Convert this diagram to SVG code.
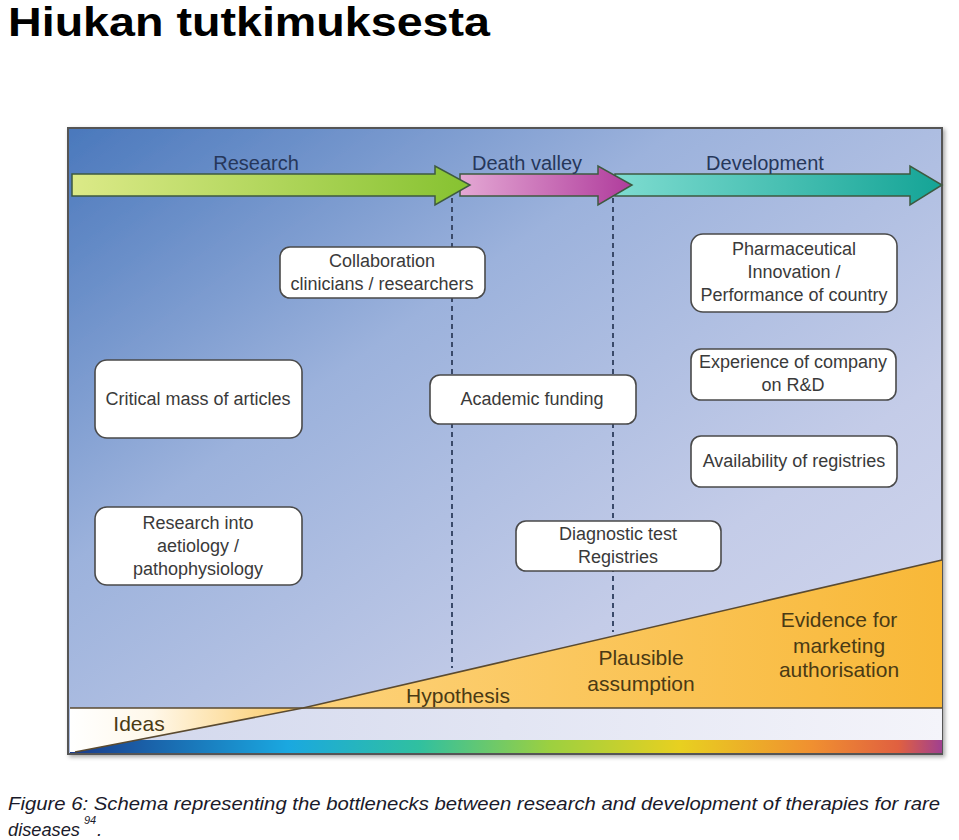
<svg xmlns="http://www.w3.org/2000/svg" width="959" height="840" viewBox="0 0 959 840">
<defs>
<linearGradient id="bg" x1="0" y1="0" x2="1" y2="1">
<stop offset="0" stop-color="#4a78bc"/>
<stop offset="0.35" stop-color="#9cb2dc"/>
<stop offset="0.7" stop-color="#c4cce8"/>
<stop offset="1" stop-color="#d4d8ee"/>
</linearGradient>
<linearGradient id="band" x1="0" y1="0" x2="1" y2="0">
<stop offset="0" stop-color="#d0d6ec"/>
<stop offset="1" stop-color="#f4f4fa"/>
</linearGradient>
<linearGradient id="rainbow" x1="0" y1="0" x2="1" y2="0">
<stop offset="0" stop-color="#1a3a8a"/>
<stop offset="0.25" stop-color="#1aa8e0"/>
<stop offset="0.4" stop-color="#30c0a0"/>
<stop offset="0.55" stop-color="#9cd040"/>
<stop offset="0.7" stop-color="#e8d020"/>
<stop offset="0.85" stop-color="#f09030"/>
<stop offset="0.95" stop-color="#e06040"/>
<stop offset="1" stop-color="#a04090"/>
</linearGradient>
<linearGradient id="yellow" x1="0" y1="0" x2="1" y2="0">
<stop offset="0" stop-color="#fdd27a"/>
<stop offset="1" stop-color="#f8b838"/>
</linearGradient>
<linearGradient id="ideas" x1="70" y1="0" x2="303" y2="0" gradientUnits="userSpaceOnUse">
<stop offset="0" stop-color="#ffffff"/>
<stop offset="0.35" stop-color="#fff8ea"/>
<stop offset="1" stop-color="#fbc860"/>
</linearGradient>
<linearGradient id="green" x1="0" y1="0" x2="1" y2="0">
<stop offset="0" stop-color="#dcea88"/>
<stop offset="1" stop-color="#86c230"/>
</linearGradient>
<linearGradient id="pink" x1="0" y1="0" x2="1" y2="0">
<stop offset="0" stop-color="#e4a8d4"/>
<stop offset="1" stop-color="#b03c9c"/>
</linearGradient>
<linearGradient id="teal" x1="0" y1="0" x2="1" y2="0">
<stop offset="0" stop-color="#7edcd0"/>
<stop offset="1" stop-color="#14a496"/>
</linearGradient>
<filter id="sh" x="-5%" y="-5%" width="110%" height="110%">
<feDropShadow dx="2" dy="2" stdDeviation="2" flood-color="#000" flood-opacity="0.35"/>
</filter>
</defs>
<style>
.box{fill:#ffffff;stroke:#4a4a4a;stroke-width:1.6}
.bt{font-family:"Liberation Sans",Arial,sans-serif;font-size:18px;fill:#3a3a3a;text-anchor:middle}
.hd{font-family:"Liberation Sans",Arial,sans-serif;font-size:20px;fill:#26375a;text-anchor:middle}
.tt{font-family:"Liberation Sans",Arial,sans-serif;font-size:21px;fill:#4a3a14;text-anchor:middle}
.arr{stroke:#3e5a40;stroke-width:1.5}
.dash{stroke:#3a4a6a;stroke-width:2;stroke-dasharray:5,4;fill:none}
</style>
<rect width="959" height="840" fill="#ffffff"/>
<text x="8" y="36" font-family="Liberation Sans,Arial,sans-serif" font-weight="bold" font-size="40" textLength="482" lengthAdjust="spacingAndGlyphs" fill="#000">Hiukan tutkimuksesta</text>

<g id="frame">
<rect x="68" y="128" width="874" height="626" fill="url(#bg)" stroke="#555" stroke-width="2" filter="url(#sh)"/>
<rect x="70" y="708" width="872" height="32" fill="url(#band)"/>
<rect x="70" y="740" width="872" height="13" fill="url(#rainbow)"/>
<polygon points="303,708 942,560 942,708" fill="url(#yellow)"/>
<polygon points="70,708 303,708 75,752 70,752" fill="url(#ideas)"/>
<polyline points="75,752 303,708 942,560" fill="none" stroke="#5a4a30" stroke-width="1.6"/>
<line x1="70" y1="708" x2="942" y2="708" stroke="#5a4a30" stroke-width="1.6"/>
</g>

<g id="connectors">
<line class="dash" x1="452" y1="198" x2="452" y2="668"/>
<line class="dash" x1="613" y1="198" x2="613" y2="632"/>
</g>

<g id="arrow-development">
<polygon class="arr" points="615,174 910,174 910,166 942,185 910,205 910,196 615,196" fill="url(#teal)"/>
<text class="hd" x="765" y="170">Development</text>
</g>
<g id="arrow-deathvalley">
<polygon class="arr" points="460,174 598,174 598,166 632,185 598,205 598,196 460,196" fill="url(#pink)"/>
<text class="hd" x="527" y="170">Death valley</text>
</g>
<g id="arrow-research">
<polygon class="arr" points="72,174 435,174 435,166 470,185 435,205 435,196 72,196" fill="url(#green)"/>
<text class="hd" x="256" y="170">Research</text>
</g>

<g id="collaboration">
<rect class="box" x="280" y="247" width="205" height="51" rx="10"/>
<text class="bt" x="382" y="267">Collaboration</text>
<text class="bt" x="382" y="290">clinicians / researchers</text>
</g>
<g id="pharmaceutical">
<rect class="box" x="691" y="234" width="206" height="78" rx="12"/>
<text class="bt" x="794" y="255">Pharmaceutical</text>
<text class="bt" x="794" y="278">Innovation /</text>
<text class="bt" x="794" y="301">Performance of country</text>
</g>
<g id="critical-mass">
<rect class="box" x="95" y="360" width="207" height="78" rx="12"/>
<text class="bt" x="198" y="405">Critical mass of articles</text>
</g>
<g id="academic-funding">
<rect class="box" x="430" y="375" width="206" height="49" rx="10"/>
<text class="bt" x="532" y="405">Academic funding</text>
</g>
<g id="experience">
<rect class="box" x="691" y="349" width="205" height="51" rx="10"/>
<text class="bt" x="793" y="368">Experience of company</text>
<text class="bt" x="793" y="391">on R&amp;D</text>
</g>
<g id="availability">
<rect class="box" x="691" y="436" width="206" height="51" rx="10"/>
<text class="bt" x="794" y="467">Availability of registries</text>
</g>
<g id="research-into">
<rect class="box" x="95" y="507" width="207" height="78" rx="12"/>
<text class="bt" x="198" y="529">Research into</text>
<text class="bt" x="198" y="552">aetiology /</text>
<text class="bt" x="198" y="575">pathophysiology</text>
</g>
<g id="diagnostic">
<rect class="box" x="516" y="521" width="205" height="50" rx="10"/>
<text class="bt" x="618" y="540">Diagnostic test</text>
<text class="bt" x="618" y="563">Registries</text>
</g>

<g id="stages">
<text class="tt" x="139" y="731">Ideas</text>
<text class="tt" x="458" y="703">Hypothesis</text>
<text class="tt" x="641" y="665">Plausible</text>
<text class="tt" x="641" y="691">assumption</text>
<text class="tt" x="839" y="627">Evidence for</text>
<text class="tt" x="839" y="653">marketing</text>
<text class="tt" x="839" y="677">authorisation</text>
</g>

<g id="caption" font-family="Liberation Sans,Arial,sans-serif" font-style="italic" fill="#1a1a2a">
<text x="8" y="810" font-size="19" textLength="932" lengthAdjust="spacingAndGlyphs">Figure 6:  Schema representing the bottlenecks between research and development of therapies for rare</text>
<text x="8" y="836" font-size="19" textLength="72" lengthAdjust="spacingAndGlyphs">diseases</text>
<text x="84" y="824" font-size="11">94</text>
<text x="97" y="836" font-size="19">.</text>
</g>
</svg>
